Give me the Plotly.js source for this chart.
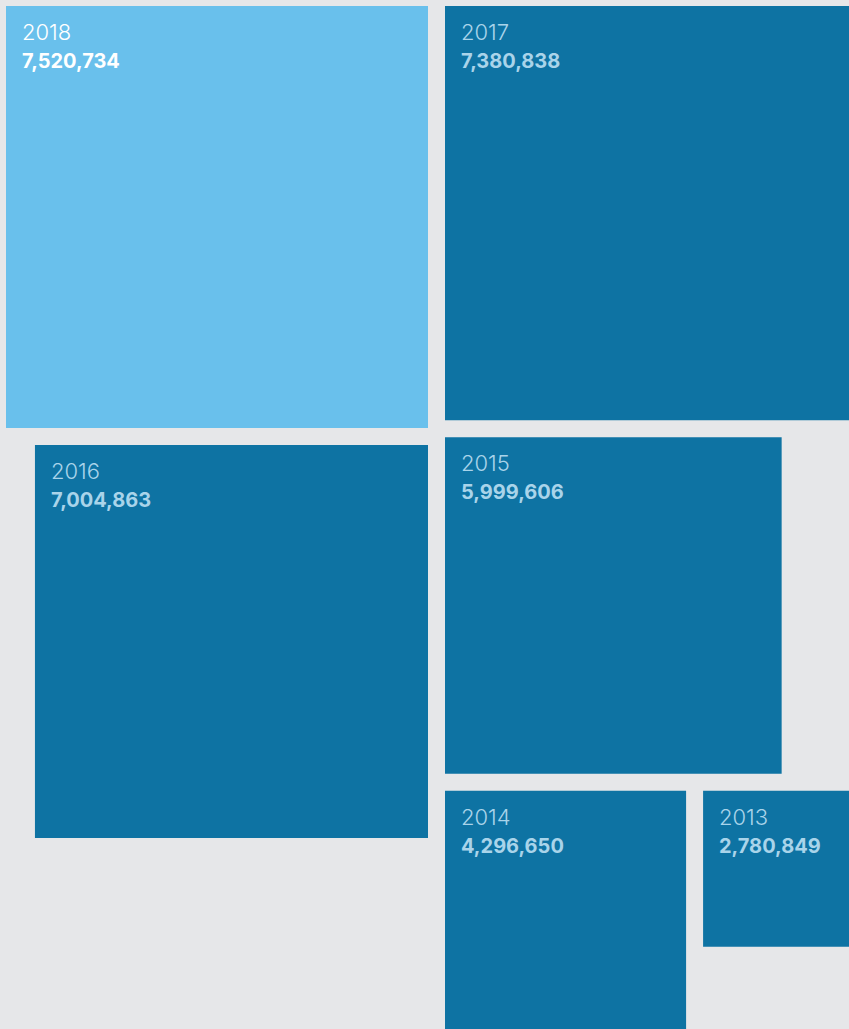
<!DOCTYPE html>
<html>
<head>
<meta charset="utf-8">
<script src="https://cdn.plot.ly/plotly-3.0.1.min.js"></script>
<style>
html,body{margin:0;padding:0;background:#E6E7E9;}
#chart{width:849px;height:1029px;}
</style>
</head>
<body>
<div id="chart"></div>
<script>
// Data
const years = ["2018", "2017", "2016", "2015", "2014", "2013"];
const values = [7520734, 7380838, 7004863, 5999606, 4296650, 2780849];
const highlightYear = "2018";

// Styling
const W = 849, H = 1029;
const origin = 6;
const gap = 17;
const maxSide = 422;             // side length of the largest square, px
const k = maxSide / Math.max(...values); // side is proportional to value
const bg = "#E6E7E9";
const darkFill = "#0E73A3";
const lightFill = "#69C0EC";
const darkText = "#A9D4EA";
const lightText = "#FFFFFF";
const fontFam = "Inter, Roboto, 'Liberation Sans', sans-serif";

const side = values.map(v => v * k);
const fmt = v => v.toLocaleString("en-US");

// Layout: two columns meeting at a gutter; left column right-aligned, right column left-aligned.
const rects = [];
const gutterLeft = origin + side[0];
const rightX = gutterLeft + gap;
rects[0] = {x0: gutterLeft - side[0], y0: origin};
rects[1] = {x0: rightX, y0: origin};
rects[2] = {x0: gutterLeft - side[2], y0: origin + side[0] + gap};
rects[3] = {x0: rightX, y0: origin + side[1] + gap};
const row3 = rects[3].y0 + side[3] + gap;
rects[4] = {x0: rightX, y0: row3};
rects[5] = {x0: rightX + side[4] + gap, y0: row3};

const shapes = [];
const annotations = [];
years.forEach((yr, i) => {
  const r = rects[i];
  const s = side[i];
  const hl = yr === highlightYear;
  shapes.push({
    type: "rect", xref: "x", yref: "y",
    x0: r.x0, x1: r.x0 + s, y0: r.y0, y1: r.y0 + s,
    fillcolor: hl ? lightFill : darkFill, line: {width: 0}, layer: "below"
  });
  const tc = hl ? lightText : darkText;
  annotations.push({
    xref: "x", yref: "y", x: r.x0 + 14, y: r.y0 + 26,
    xanchor: "left", yanchor: "middle", showarrow: false,
    text: yr, font: {family: fontFam, size: 22, color: tc, weight: 300}
  });
  annotations.push({
    xref: "x", yref: "y", x: r.x0 + 14, y: r.y0 + 55,
    xanchor: "left", yanchor: "middle", showarrow: false,
    text: "<b>" + fmt(values[i]) + "</b>",
    font: {family: fontFam, size: 20, color: tc}
  });
});

const layout = {
  width: W, height: H,
  margin: {l: 0, r: 0, t: 0, b: 0},
  paper_bgcolor: bg, plot_bgcolor: bg,
  xaxis: {range: [0, W], visible: false, fixedrange: true},
  yaxis: {range: [H, 0], visible: false, fixedrange: true},
  shapes: shapes,
  annotations: annotations,
  showlegend: false
};

Plotly.newPlot("chart", [{x: [], y: [], type: "scatter", mode: "markers", hoverinfo: "skip"}], layout, {displayModeBar: false, staticPlot: true});
</script>
</body>
</html>
